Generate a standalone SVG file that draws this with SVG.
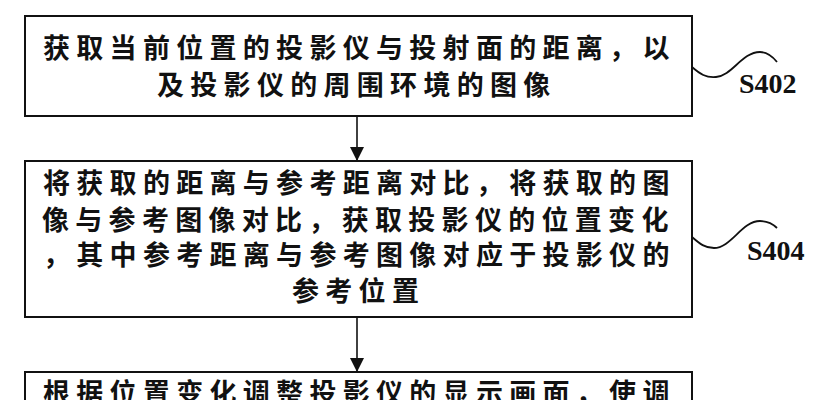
<svg xmlns="http://www.w3.org/2000/svg" width="828" height="400" viewBox="0 0 828 400">
<style>
.box{fill:#fff;stroke:#111;stroke-width:2}
.t{font-family:"Noto Sans CJK SC","Noto Sans CJK JP",sans-serif;font-size:27px;font-weight:700;fill:#111;letter-spacing:6.3px}
.lbl{font-family:"Liberation Serif","Times New Roman",serif;font-size:28px;font-weight:700;fill:#111}
.wire{fill:none;stroke:#111;stroke-width:1.6}
.sq{fill:none;stroke:#111;stroke-width:1.8}
</style>
<defs>
<marker id="ah" markerWidth="14" markerHeight="14" refX="14" refY="7" orient="auto" markerUnits="userSpaceOnUse">
<path d="M0,0 L14,7 L0,14 Z" fill="#111"/>
</marker>
</defs>
<rect width="828" height="400" fill="#fff"/>
<g id="connectors">
<line class="wire" x1="357" y1="116" x2="357" y2="161" marker-end="url(#ah)"/>
<line class="wire" x1="357" y1="317" x2="357" y2="372" marker-end="url(#ah)"/>
</g>
<g id="S402">
<rect class="box" x="25" y="16" width="667" height="100"/>
<text class="t" x="43" y="58">获取当前位置的投影仪与投射面的距离，以</text>
<text class="t" x="157" y="95">及投影仪的周围环境的图像</text>
<path class="sq" d="M692,67 C700,74 706,78 716,77 C732,76 742,52 760,52 C768,52 773,57 777,62"/>
<text class="lbl" x="739" y="93">S402</text>
</g>
<g id="S404">
<rect class="box" x="25" y="161" width="667" height="156"/>
<text class="t" x="43" y="193">将获取的距离与参考距离对比，将获取的图</text>
<text class="t" x="42" y="230">像与参考图像对比，获取投影仪的位置变化</text>
<text class="t" x="43" y="265">，其中参考距离与参考图像对应于投影仪的</text>
<text class="t" x="292" y="301">参考位置</text>
<path class="sq" d="M692,237 C700,244 705,248 714,248 C731,248 742,221 760,221 C768,221 773,224 777,228"/>
<text class="lbl" x="747" y="260">S404</text>
</g>
<g id="S406">
<rect class="box" x="25" y="372" width="667" height="60"/>
<text class="t" x="43" y="403">根据位置变化调整投影仪的显示画面，使调</text>
</g>
</svg>
